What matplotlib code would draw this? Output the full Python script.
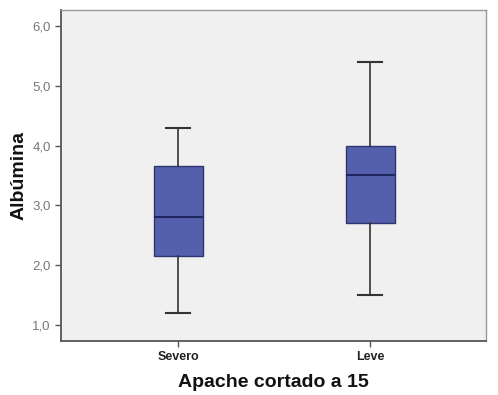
import matplotlib
matplotlib.use("Agg")
import matplotlib.pyplot as plt

plt.rcParams["font.family"] = ["Liberation Sans", "DejaVu Sans"]

categories = ["Severo", "Leve"]
whisker_low = [1.2, 1.5]
q1 = [2.15, 2.7]
median = [2.8, 3.5]
q3 = [3.65, 4.0]
whisker_high = [4.3, 5.4]
yticks = [1.0, 2.0, 3.0, 4.0, 5.0, 6.0]
ytick_labels = ["1,0", "2,0", "3,0", "4,0", "5,0", "6,0"]

fig = plt.figure(figsize=(4.98, 3.95), dpi=100)
ax = fig.add_axes([0.1225, 0.137, 0.8535, 0.838])
ax.set_facecolor("#F0F0F0")

stats = []
for i, c in enumerate(categories):
    stats.append(dict(label=c, whislo=whisker_low[i], q1=q1[i], med=median[i],
                      q3=q3[i], whishi=whisker_high[i], fliers=[]))

ax.bxp(stats, positions=[1, 2], widths=0.255, patch_artist=True, showfliers=False,
       boxprops=dict(facecolor="#5560AC", edgecolor="#2E3570", linewidth=1.0),
       medianprops=dict(color="#1E2560", linewidth=1.5),
       whiskerprops=dict(color="#333333", linewidth=1.2),
       capprops=dict(color="#333333", linewidth=1.5),
       capwidths=0.125)

ax.set_xlim(0.39, 2.604)
ax.set_ylim(0.73, 6.27)
ax.set_yticks(yticks)
ax.set_yticklabels(ytick_labels)
ax.tick_params(axis="y", colors="#555555", labelsize=9.5, length=4, width=1, labelcolor="#777777")
ax.tick_params(axis="x", length=4, width=1, color="#555555", labelsize=9)
for lbl in ax.get_xticklabels():
    lbl.set_fontweight("bold")
    lbl.set_color("#222222")

for side in ["left", "bottom"]:
    ax.spines[side].set_color("#555555")
    ax.spines[side].set_linewidth(1.3)
for side in ["top", "right"]:
    ax.spines[side].set_color("#999999")
    ax.spines[side].set_linewidth(1.0)

ax.set_ylabel("Albúmina", fontsize=14, fontweight="bold", color="#111111", labelpad=3)
ax.set_xlabel("Apache cortado a 15", fontsize=14, fontweight="bold", color="#111111", labelpad=8)

fig.savefig("out.png", dpi=100)
